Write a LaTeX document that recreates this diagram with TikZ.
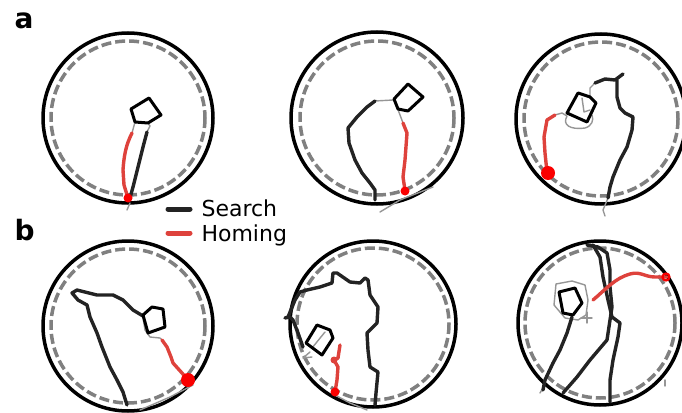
\documentclass[tikz,border=0pt]{standalone}
\usepackage{fontspec}
\setmainfont{DejaVu Sans}
\definecolor{trk}{RGB}{35,35,35}
\definecolor{hom}{RGB}{222,66,60}
\definecolor{dotred}{RGB}{250,0,0}
\definecolor{dashgray}{RGB}{128,128,128}
\definecolor{thin}{RGB}{150,150,150}
\begin{document}
\begin{tikzpicture}[x=1pt,y=-1pt,
  arena/.style={draw=black,line width=3.5pt},
  wall/.style={draw=dashgray,line width=3.5pt,dash pattern=on 10pt off 4pt},
  search/.style={draw=trk,line width=3.4pt,line join=round,line cap=round},
  homing/.style={draw=hom,line width=3.4pt,line join=round,line cap=round},
  faint/.style={draw=thin,line width=1.4pt,line join=round,line cap=round},
  nest/.style={draw=black,line width=3pt,line join=round},
  enddot/.style={fill=dotred},
  panel/.style={font=\bfseries\fontsize{28}{30}\selectfont,anchor=base west},
  legtext/.style={font=\fontsize{22}{24}\selectfont,anchor=base west}]
\useasboundingbox (0,0) rectangle (682,412);
\node[panel] (la) at (11,29) {a};
\node[panel] (lb) at (11,240) {b};
% legend
\coordinate (ls1) at (168,209); \coordinate (ls2) at (190,209);
\coordinate (lh1) at (168,233); \coordinate (lh2) at (190,233);
\draw[draw=trk,line width=5pt,line cap=round] (ls1) -- (ls2);
\draw[draw=hom,line width=5pt,line cap=round] (lh1) -- (lh2);
\node[legtext] (ts) at (198,216) {Search};
\node[legtext] (th) at (198,241) {Homing};

% ---------- a1 ----------
\coordinate (A1) at (128,118);
\draw[wall] (A1) circle (77);
\draw[arena] (A1) circle (85);
\draw[faint] (135,122) -- (132,133);
\draw[faint] (148,123) -- (150,126) -- (147,132);
\draw[faint] (130,203) -- (127,210);
\draw[homing] (132,133) .. controls (126,145) and (124,155) .. (123,170) -- (124,185) -- (128,198);
\draw[search] (147,132) -- (143,147) -- (138,167) -- (133,187) -- (130,198);
\draw[nest] (131,109) -- (149,98) -- (161,115) -- (148,123) -- (135,122) -- cycle;
\fill[enddot] (128,198) circle (4.5);

% ---------- a2 ----------
\coordinate (A2) at (377,118);
\draw[wall] (A2) circle (77);
\draw[arena] (A2) circle (86);
\draw[faint] (375,101) -- (393,100);
\draw[faint] (397,107) -- (403,123);
\draw[faint] (380,212) -- (400,200) -- (433,187);
\draw[search] (375,101) -- (367,107) -- (357,117) -- (348,128) -- (349,143) -- (355,160) -- (362,173) -- (370,183) -- (375,190) -- (375,200);
\draw[homing] (403,123) -- (407,133) -- (405,160) -- (403,177) -- (405,190);
\draw[nest] (394,99) -- (408,84) -- (423,97) -- (408,111) -- (398,109) -- cycle;
\fill[enddot] (405,191) circle (4.5);

% ---------- a3 ----------
\coordinate (A3) at (601,119);
\draw[wall] (A3) circle (77);
\draw[arena] (A3) circle (85);
\draw[faint] (555,115) -- (562,113) -- (567,116) .. controls (562,125) and (570,130) .. (585,128) .. controls (592,126) and (594,120) .. (592,115);
\draw[faint] (590,97) -- (590,88) -- (595,83);
\draw[faint] (582,98) -- (584,112) -- (590,110);
\draw[faint] (608,198) -- (603,210) -- (605,216);
\draw[search] (595,83) -- (605,79) -- (615,80) -- (623,74);
\draw[search] (617,80) -- (617,97) -- (620,108) -- (625,113) -- (633,117) -- (632,130) -- (627,147) -- (620,160) -- (613,177) -- (610,187) -- (608,198);
\draw[homing] (555,115) -- (547,120) -- (544,137) -- (545,153) -- (547,172);
\draw[nest] (567,113) -- (578,93) -- (590,97) -- (596,103) -- (587,122) -- cycle;
\fill[enddot] (548,173) circle (7);

% ---------- b1 ----------
\coordinate (B1) at (128,326);
\draw[wall] (B1) circle (77);
\draw[arena] (B1) circle (85);
\draw[faint] (143,318) -- (145,330) -- (150,337) -- (160,338) -- (162,340);
\draw[faint] (193,385) -- (170,397) -- (140,410);
\draw[search] (143,316) -- (133,310) -- (123,300) -- (113,295) -- (97,295) -- (77,290) -- (72,293) -- (78,300) -- (87,305) -- (90,317) -- (97,333) -- (102,347) -- (110,367) -- (117,380) -- (123,392) -- (127,405);
\draw[homing] (162,340) -- (167,347) -- (171,357) -- (173,363) -- (182,373) -- (188,380);
\draw[nest] (143,315) -- (152,307) -- (163,309) -- (165,327) -- (148,333) -- cycle;
\fill[enddot] (188,380) circle (7);

% ---------- b2 ----------
\coordinate (B2) at (373,324);
\draw[wall] (B2) circle (76);
\draw[arena] (B2) circle (83);
\draw[faint] (312,348) -- (325,332);
\draw[faint] (312,357) -- (303,358) -- (310,352);
\draw[faint] (335,395) -- (350,403) -- (367,410);
\draw[search] (375,405) -- (376,393) -- (378,372) -- (370,367) -- (368,350) -- (367,333) -- (377,323) -- (378,307) -- (370,295) -- (368,280) -- (365,278) -- (360,283) -- (350,282) -- (337,273) -- (333,273) -- (332,283) -- (320,287) -- (307,290) -- (300,292) -- (295,300) -- (288,317) -- (285,318) -- (290,317) -- (293,320) -- (298,333) -- (303,347);
\draw[homing] (340,345) -- (338,358) -- (334,360) -- (338,367) -- (337,380) -- (335,392);
\fill[hom] (334,360) circle (3.5);
\draw[nest] (306,343) -- (317,325) -- (330,330) -- (333,338) -- (322,355) -- cycle;
\fill[enddot] (335,392) circle (4.5);

% ---------- b3 ----------
\coordinate (B3) at (600,323);
\draw[wall] (B3) circle (75);
\draw[arena] (B3) circle (82);
\draw[faint] (556,284) -- (572,281) -- (585,285) -- (588,300) -- (586,315) -- (578,320) -- (565,318) -- (554,305) -- cycle;
\draw[faint] (587,312) -- (587,323);
\draw[faint] (581,318) -- (592,318);
\draw[faint] (543,388) -- (540,393);
\draw[faint] (665,380) -- (665,386);
\draw[search] (593,245) -- (600,257) -- (603,277) -- (608,300) -- (612,317) -- (620,323) -- (618,337) -- (613,360) -- (610,380) -- (610,402);
\draw[search] (587,245) -- (598,247) -- (607,253) -- (610,270) -- (610,287) -- (612,307) -- (610,320) -- (607,340) -- (590,360) -- (577,377) -- (563,393);
\draw[search] (572,317) -- (567,333) -- (560,350) -- (553,363) -- (545,380) -- (543,390);
\draw[homing] (593,300) .. controls (605,290) and (615,278) .. (630,274) .. controls (640,271) and (645,277) .. (655,277) -- (667,277);
\draw[nest] (559,292) -- (575,288) -- (582,303) -- (573,315) -- (563,313) -- cycle;
\draw[dotred,line width=2.2pt] (666,277) circle (3.5);
\end{tikzpicture}
\end{document}
